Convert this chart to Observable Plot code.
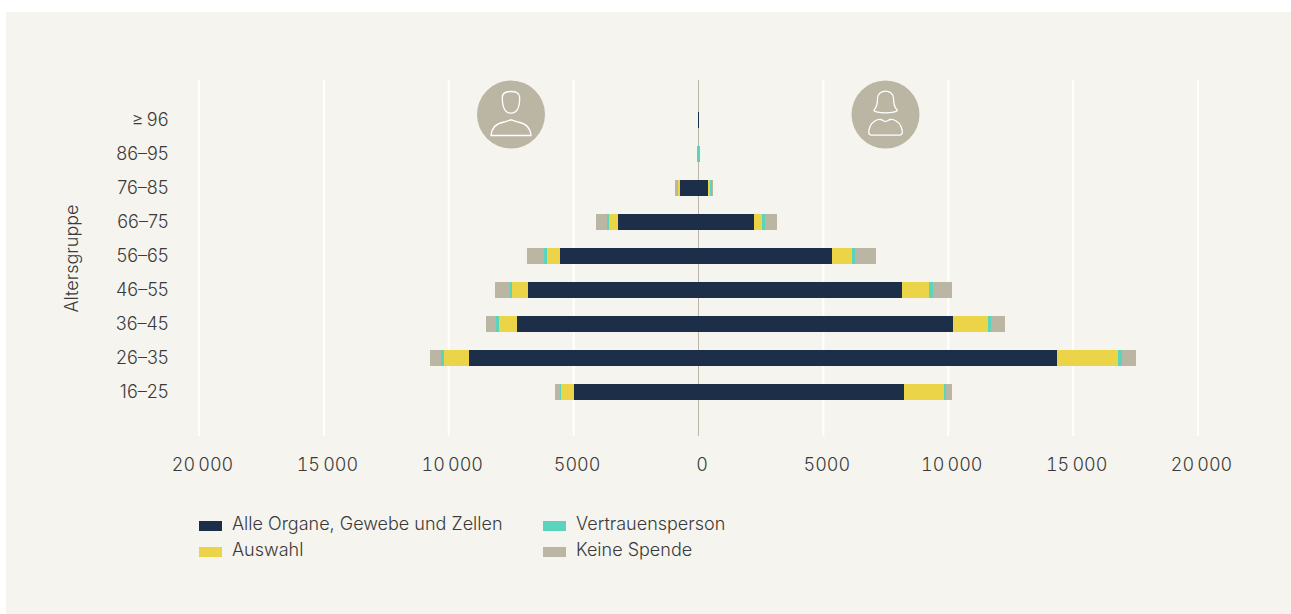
<!DOCTYPE html>
<html lang="de">
<head>
<meta charset="utf-8">
<script src="https://cdn.jsdelivr.net/npm/d3@7"></script>
<script src="https://cdn.jsdelivr.net/npm/@observablehq/plot@0.6"></script>
<style>
  html, body { margin: 0; padding: 0; background: #fff; overflow: hidden; }
  #panel { position: absolute; left: 6px; top: 12px; width: 1285px; height: 602px; background: #f5f4ef;
           font-family: Inter, sans-serif; font-weight: 300; color: #3a3a3a; }
  #panel svg { display: block; background: transparent; }
  #legend { position: absolute; left: 193px; top: 501px; display: grid; grid-template-columns: 344px 260px; grid-auto-rows: 26px;
            font-size: 18px; line-height: 22px; }
  .item { display: flex; align-items: center; height: 22px; white-space: nowrap; }
  .sw { display: inline-block; width: 23px; height: 10px; margin-right: 10px; position: relative; top: 2px; }
</style>
</head>
<body>
<div id="panel"><div id="chart"></div><div id="legend"></div></div>
<script>
const ageGroups = ["≥\u200996", "86–95", "76–85", "66–75", "56–65", "46–55", "36–45", "26–35", "16–25"];
const seriesNames = ["Alle Organe, Gewebe und Zellen", "Auswahl", "Vertrauensperson", "Keine Spende"];
const seriesColors = ["#1c2e48", "#ebd447", "#5ad4bc", "#bbb5a3"];
const legendOrder = [0, 2, 1, 3];

// Men (left side), ordered as ageGroups
const menAll   = [25, 0, 740, 3223, 5545, 6827, 7267, 9190, 4985];
const menSel   = [0, 0, 80, 360, 520, 640, 720, 1000, 520];
const menTrust = [0, 72, 20, 80, 120, 92, 130, 120, 40];
const menNone  = [0, 0, 100, 440, 680, 590, 390, 440, 200];

// Women (right side)
const womenAll   = [25, 0, 380, 2222, 5345, 8148, 10190, 14354, 8228];
const womenSel   = [0, 0, 80, 320, 800, 1080, 1400, 2442, 1600];
const womenTrust = [0, 60, 80, 120, 120, 160, 120, 160, 80];
const womenNone  = [0, 0, 40, 480, 840, 760, 560, 560, 240];

const xTicks = [-20000, -15000, -10000, -5000, 0, 5000, 10000, 15000, 20000];
const avatarX = [-7507, 7488];

const men = [menAll, menSel, menTrust, menNone];
const women = [womenAll, womenSel, womenTrust, womenNone];
const rows = [];
seriesNames.forEach((name, s) => {
  ageGroups.forEach((age, i) => {
    rows.push({age, series: name, value: -men[s][i]});
    rows.push({age, series: name, value: women[s][i]});
  });
});

const fmt = d => {
  const a = Math.abs(d);
  return a >= 10000 ? `${Math.floor(a / 1000)}\u2009${String(a % 1000).padStart(3, "0")}` : String(a);
};

const manHead = {draw(c) {
  c.moveTo(-8.7, -17);
  c.bezierCurveTo(-8.7, -21.5, -5, -23, 0, -23);
  c.bezierCurveTo(5, -23, 8.7, -21.5, 8.7, -17);
  c.bezierCurveTo(8.7, -9, 7, -1.3, 0, -1.3);
  c.bezierCurveTo(-7, -1.3, -8.7, -9, -8.7, -17);
  c.closePath();
}};
const manBody = {draw(c) {
  c.moveTo(-20, 21);
  c.bezierCurveTo(-19, 11, -13, 8.5, -7, 7.5);
  c.lineTo(0, 5.3);
  c.lineTo(7, 7.5);
  c.bezierCurveTo(13, 8.5, 19, 11, 20, 21);
  c.closePath();
}};
const womanHead = {draw(c) {
  c.moveTo(-11.5, -4.5);
  c.bezierCurveTo(-8, -8, -8, -12, -8, -16);
  c.bezierCurveTo(-8, -21, -4, -23.3, 0, -23.3);
  c.bezierCurveTo(4, -23.3, 8, -21, 8, -16);
  c.bezierCurveTo(8, -12, 8, -8, 11.7, -4.5);
  c.bezierCurveTo(11.7, -2.5, 6, -1.7, 0, -1.7);
  c.bezierCurveTo(-6, -1.7, -11.7, -2.5, -11.5, -4.5);
  c.closePath();
}};
const womanBody = {draw(c) {
  c.moveTo(-14, 20.7);
  c.bezierCurveTo(-18, 20.7, -17, 16, -15.5, 12);
  c.bezierCurveTo(-13.5, 7, -8, 4.7, -5, 5);
  c.bezierCurveTo(-3, 5.2, -2, 7, 0, 7);
  c.bezierCurveTo(2, 7, 3, 5.2, 5, 5);
  c.bezierCurveTo(8, 4.7, 13.5, 7, 15.5, 12);
  c.bezierCurveTo(17, 16, 18, 20.7, 14, 20.7);
  c.closePath();
}};

const font = "Inter, sans-serif";
const textColor = "#3a3a3a";
const iconStyle = {y: () => ageGroups[0], dy: -6, fill: "none", stroke: "#fff", strokeWidth: 1.3, r: 10};

const chart = Plot.plot({
  width: 1285, height: 480,
  marginTop: 68, marginBottom: 56, marginLeft: 193, marginRight: 93,
  style: {background: "transparent", fontFamily: font, fontWeight: 300, fontSize: "18px", color: textColor, overflow: "visible"},
  x: {domain: [-20000, 20000], range: [192.5, 1191.5]},
  y: {type: "band", domain: ageGroups, range: [91, 397], paddingInner: 18 / 34, paddingOuter: 9 / 34, align: 0.5},
  color: {domain: seriesNames, range: seriesColors},
  marks: [
    Plot.ruleX(xTicks.filter(d => d !== 0), {stroke: "#ffffff", strokeWidth: 2}),
    Plot.ruleX([0], {stroke: "#bbb5a3", strokeWidth: 1}),
    Plot.barX(rows, {x: "value", y: "age", z: "series", fill: "series", dx: 0.5, shapeRendering: "crispEdges"}),
    Plot.dot(avatarX, {x: d => d, y: () => ageGroups[0], dy: -6, r: 34, fill: "#bbb5a3"}),
    Plot.dot([avatarX[0]], {...iconStyle, x: d => d, symbol: manHead}),
    Plot.dot([avatarX[0]], {...iconStyle, x: d => d, symbol: manBody}),
    Plot.dot([avatarX[1]], {...iconStyle, x: d => d, symbol: womanHead}),
    Plot.dot([avatarX[1]], {...iconStyle, x: d => d, symbol: womanBody}),
    Plot.axisX({ticks: xTicks, tickSize: 0, tickPadding: 22, tickFormat: fmt, label: null, dx: 3.5, fontSize: 18, fontWeight: 300, fill: textColor}),
    Plot.axisY({tickSize: 0, tickPadding: 31, dy: -0.5, label: "Altersgruppe", labelAnchor: "center", labelArrow: "none", labelOffset: 134, fontSize: 18, fontWeight: 300, fill: textColor})
  ]
});
document.getElementById("chart").append(chart);

const legend = document.getElementById("legend");
legendOrder.forEach(i => {
  const item = document.createElement("div");
  item.className = "item";
  const sw = document.createElement("span");
  sw.className = "sw";
  sw.style.background = seriesColors[i];
  item.append(sw, document.createTextNode(seriesNames[i]));
  legend.append(item);
});
</script>
</body>
</html>
